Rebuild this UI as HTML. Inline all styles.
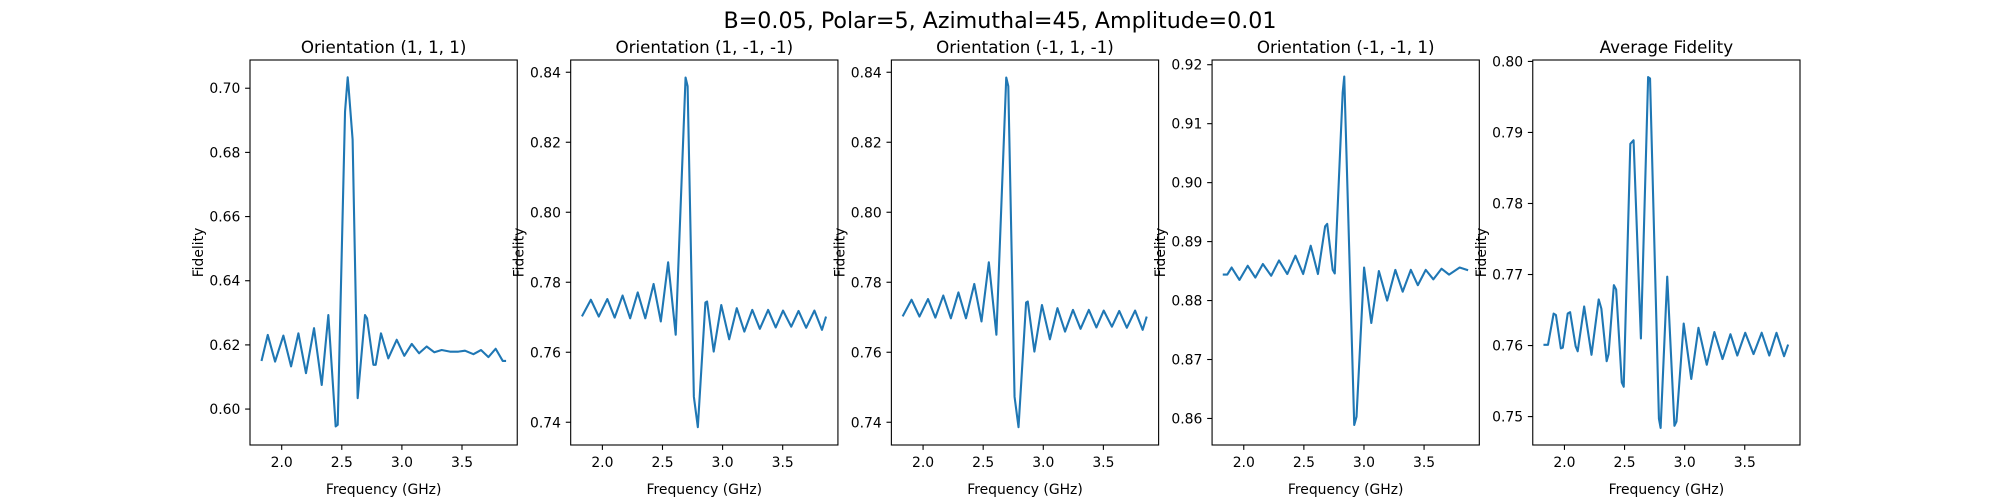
<!DOCTYPE html>
<html><head><meta charset="utf-8">
<style>
html,body{margin:0;padding:0;background:#fff;}
svg{display:block;font-family:"DejaVu Sans","Liberation Sans",sans-serif;}
</style></head>
<body>
<svg id="fig" width="2000" height="500" viewBox="0 0 2000 500" xmlns="http://www.w3.org/2000/svg">
<rect x="0" y="0" width="2000" height="500" fill="#fff"/>
<text x="1000" y="28" font-size="22.2" text-anchor="middle" fill="#000">B=0.05, Polar=5, Azimuthal=45, Amplitude=0.01</text>
</svg>
<script>
// Panel titles
const titles = ["Orientation (1, 1, 1)","Orientation (1, -1, -1)","Orientation (-1, 1, -1)","Orientation (-1, -1, 1)","Average Fidelity"];
// x tick labels (shared)
const xTicks = [2.0, 2.5, 3.0, 3.5];
// y tick labels per panel
const yTicks1 = [0.60,0.62,0.64,0.66,0.68,0.70];
const yTicks2 = [0.74,0.76,0.78,0.80,0.82,0.84];
const yTicks3 = [0.74,0.76,0.78,0.80,0.82,0.84];
const yTicks4 = [0.86,0.87,0.88,0.89,0.90,0.91,0.92];
const yTicks5 = [0.75,0.76,0.77,0.78,0.79,0.80];
// y limits per panel
const yLim1 = [0.5888,0.7088];
const yLim2 = [0.7335,0.8435];
const yLim3 = [0.7335,0.8435];
const yLim4 = [0.8555,0.9208];
const yLim5 = [0.7460,0.8002];
const xLim = [1.7363,3.9596];

// Series 1: Orientation (1,1,1)
const freq1 = [1.834,1.884,1.945,2.014,2.078,2.139,2.202,2.269,2.333,2.388,2.449,2.466,2.527,2.549,2.556,2.590,2.632,2.693,2.710,2.763,2.782,2.826,2.887,2.957,3.020,3.082,3.143,3.206,3.270,3.331,3.400,3.470,3.525,3.595,3.658,3.720,3.780,3.839,3.858];
const fid1  = [0.6153,0.6231,0.6148,0.6229,0.6133,0.6236,0.6112,0.6252,0.6075,0.6293,0.5946,0.5951,0.6927,0.7034,0.7005,0.6840,0.6034,0.6293,0.6283,0.6138,0.6138,0.6236,0.6158,0.6216,0.6166,0.6203,0.6174,0.6195,0.6177,0.6184,0.6179,0.6179,0.6182,0.6171,0.6184,0.6162,0.6188,0.6150,0.6150];
// Series 2: Orientation (1,-1,-1)
const freq2 = [1.834,1.904,1.970,2.041,2.102,2.168,2.231,2.294,2.357,2.426,2.486,2.547,2.610,2.692,2.709,2.761,2.794,2.857,2.871,2.926,2.989,3.055,3.118,3.181,3.247,3.310,3.379,3.442,3.503,3.571,3.632,3.695,3.764,3.827,3.858];
const fid2  = [0.7705,0.7750,0.7702,0.7752,0.7699,0.7762,0.7697,0.7771,0.7697,0.7795,0.7688,0.7857,0.7650,0.8385,0.8360,0.7473,0.7386,0.7742,0.7745,0.7602,0.7735,0.7637,0.7726,0.7659,0.7721,0.7667,0.7721,0.7671,0.7719,0.7673,0.7718,0.7670,0.7719,0.7664,0.7699];
// Series 3: Orientation (-1,1,-1)
const freq3 = [1.834,1.904,1.970,2.041,2.102,2.168,2.231,2.294,2.357,2.426,2.486,2.547,2.610,2.692,2.709,2.761,2.794,2.857,2.871,2.926,2.989,3.055,3.118,3.181,3.247,3.310,3.379,3.442,3.503,3.571,3.632,3.695,3.764,3.827,3.858];
const fid3  = [0.7705,0.7750,0.7702,0.7752,0.7699,0.7762,0.7697,0.7771,0.7697,0.7795,0.7688,0.7857,0.7650,0.8385,0.8360,0.7473,0.7386,0.7742,0.7745,0.7602,0.7735,0.7637,0.7726,0.7659,0.7721,0.7667,0.7721,0.7671,0.7719,0.7673,0.7718,0.7670,0.7719,0.7664,0.7699];
// Series 4: Orientation (-1,-1,1)
const freq4 = [1.834,1.863,1.899,1.964,2.033,2.096,2.159,2.228,2.293,2.362,2.430,2.494,2.557,2.617,2.677,2.694,2.740,2.757,2.823,2.836,2.919,2.938,3.001,3.061,3.124,3.193,3.261,3.322,3.390,3.448,3.514,3.577,3.645,3.708,3.796,3.858];
const fid4  = [0.8844,0.8844,0.8856,0.8835,0.8859,0.8839,0.8862,0.8842,0.8868,0.8845,0.8876,0.8845,0.8893,0.8845,0.8926,0.8930,0.8852,0.8846,0.9153,0.9180,0.8589,0.8603,0.8856,0.8762,0.8850,0.8800,0.8852,0.8815,0.8852,0.8826,0.8852,0.8836,0.8854,0.8844,0.8856,0.8852];
// Series 5: Average Fidelity
const freq5 = [1.834,1.863,1.910,1.929,1.970,1.986,2.027,2.047,2.093,2.110,2.164,2.225,2.285,2.307,2.351,2.367,2.411,2.430,2.477,2.493,2.548,2.575,2.636,2.696,2.712,2.786,2.800,2.855,2.915,2.932,2.992,3.055,3.115,3.184,3.247,3.315,3.381,3.438,3.504,3.573,3.641,3.704,3.764,3.827,3.858];
const fid5  = [0.7601,0.7601,0.7645,0.7643,0.7596,0.7597,0.7645,0.7647,0.7599,0.7592,0.7655,0.7587,0.7665,0.7652,0.7578,0.7588,0.7685,0.7679,0.7548,0.7542,0.7884,0.7889,0.7610,0.7978,0.7976,0.7497,0.7484,0.7697,0.7487,0.7493,0.7631,0.7553,0.7625,0.7573,0.7619,0.7581,0.7616,0.7586,0.7618,0.7588,0.7618,0.7586,0.7618,0.7585,0.7600];

const NS = "http://www.w3.org/2000/svg";
const svg = document.getElementById('fig');
const AX_TOP = 60, AX_BOT = 445, AX_W = 267.24, GAP = 53.45, AX_L0 = 250;

function mk(tag, attrs, parent){
  const e = document.createElementNS(NS, tag);
  for (const k in attrs) e.setAttribute(k, attrs[k]);
  (parent||svg).appendChild(e);
  return e;
}

const panels = [
  {fx:freq1, fy:fid1, yt:yTicks1, yl:yLim1},
  {fx:freq2, fy:fid2, yt:yTicks2, yl:yLim2},
  {fx:freq3, fy:fid3, yt:yTicks3, yl:yLim3},
  {fx:freq4, fy:fid4, yt:yTicks4, yl:yLim4},
  {fx:freq5, fy:fid5, yt:yTicks5, yl:yLim5}
];

panels.forEach((p, i) => {
  const L = AX_L0 + i*(AX_W+GAP), R = L + AX_W;
  const xs = v => L + (v - xLim[0])/(xLim[1]-xLim[0])*AX_W;
  const ys = v => AX_BOT - (v - p.yl[0])/(p.yl[1]-p.yl[0])*(AX_BOT-AX_TOP);
  const g = mk('g', {});
  
  

  let d = '';
  p.fx.forEach((x, j) => { d += (j ? 'L' : 'M') + xs(x).toFixed(2) + ',' + ys(p.fy[j]).toFixed(2); });
  const line = mk('path', {d:d, fill:'none', stroke:'#1f77b4', 'stroke-width':2.1, 'stroke-linejoin':'round', 'stroke-linecap':'square'}, g);
  
  

  const frame = mk('rect', {x:L, y:AX_TOP, width:AX_W, height:AX_BOT-AX_TOP, fill:'none', stroke:'#000', 'stroke-width':1.1}, g);
  
  

  xTicks.forEach(t => {
    const x = xs(t);
    const tk = mk('line', {x1:x, x2:x, y1:AX_BOT, y2:AX_BOT+4.9, stroke:'#000', 'stroke-width':1.1}, g);
    
    
    const tl = mk('text', {x:x, y:AX_BOT+22, 'font-size':13.9, 'text-anchor':'middle', fill:'#000'}, g);
    tl.textContent = t.toFixed(1);
    
    
  });
  p.yt.forEach(t => {
    const y = ys(t);
    const tk = mk('line', {x1:L-4.9, x2:L, y1:y, y2:y, stroke:'#000', 'stroke-width':1.1}, g);
    
    
    const tl = mk('text', {x:L-9.7, y:y+5, 'font-size':13.9, 'text-anchor':'end', fill:'#000'}, g);
    tl.textContent = t.toFixed(2);
    
    
  });
  const tt = mk('text', {x:(L+R)/2, y:53, 'font-size':16.7, 'text-anchor':'middle', fill:'#000'}, g);
  tt.textContent = titles[i];
  
  
  const xl = mk('text', {x:(L+R)/2, y:494, 'font-size':13.9, 'text-anchor':'middle', fill:'#000'}, g);
  xl.textContent = 'Frequency (GHz)';
  
  
  const yx = L - 47, yy = (AX_TOP+AX_BOT)/2;
  const yl = mk('text', {x:yx, y:yy, 'font-size':13.9, 'text-anchor':'middle', fill:'#000', transform:'rotate(-90 '+yx+' '+yy+')'}, g);
  yl.textContent = 'Fidelity';
  
  
});
</script>
</body></html>
